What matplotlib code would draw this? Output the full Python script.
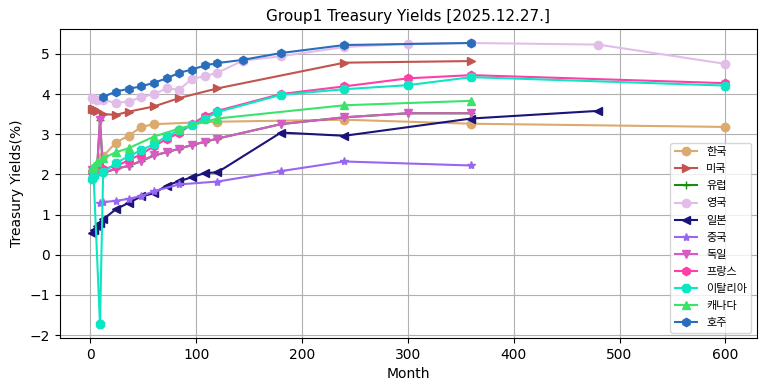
import matplotlib
matplotlib.use('Agg')
import matplotlib.pyplot as plt

plt.rcParams['font.family'] = ['DejaVu Sans', 'Noto Sans CJK KR']
plt.rcParams['axes.unicode_minus'] = True

# --- data (month -> yield %) ---
kr_m = [3, 6, 12, 24, 36, 48, 60, 120, 240, 360, 600]
kr_v = [2.05, 2.18, 2.45, 2.79, 2.96, 3.18, 3.25, 3.31, 3.36, 3.26, 3.18]

us_m = [1, 2, 3, 4, 6, 12, 24, 36, 60, 84, 120, 240, 360]
us_v = [3.63, 3.63, 3.62, 3.60, 3.57, 3.50, 3.48, 3.56, 3.69, 3.90, 4.14, 4.78, 4.82]

de_m = [1, 3, 6, 9, 12, 24, 36, 48, 60, 72, 84, 96, 108, 120, 180, 240, 300, 360]
de_v = [2.12, 2.07, 2.03, 3.36, 2.03, 2.14, 2.21, 2.33, 2.47, 2.55, 2.64, 2.73, 2.81,
        2.89, 3.25, 3.42, 3.52, 3.52]

eu_m = [1, 3, 6, 9, 12, 24, 36, 48, 60, 72, 84, 96, 108, 120, 180, 240, 300, 360]
eu_v = [2.12, 2.07, 2.03, 3.36, 2.03, 2.14, 2.21, 2.33, 2.47, 2.55, 2.64, 2.73, 2.81,
        2.89, 3.25, 3.42, 3.52, 3.52]

uk_m = [1, 3, 6, 12, 24, 36, 48, 60, 72, 84, 96, 108, 120, 144, 180, 240, 300, 360, 480, 600]
uk_v = [3.89, 3.88, 3.86, 3.85, 3.78, 3.81, 3.92, 4.00, 4.14, 4.11, 4.38, 4.44, 4.53,
        4.83, 4.94, 5.17, 5.25, 5.27, 5.23, 4.75]

jp_m = [1, 3, 6, 9, 12, 24, 36, 48, 60, 72, 84, 96, 108, 120, 180, 240, 360, 480]
jp_v = [0.53, 0.62, 0.72, 0.80, 0.88, 1.13, 1.29, 1.45, 1.53, 1.72, 1.83, 1.93, 2.03,
        2.05, 3.04, 2.96, 3.39, 3.58]

cn_m = [9, 12, 24, 36, 48, 60, 84, 120, 180, 240, 360]
cn_v = [1.29, 1.31, 1.34, 1.39, 1.46, 1.58, 1.75, 1.82, 2.08, 2.32, 2.22]

fr_m = [1, 3, 6, 9, 12, 24, 36, 48, 60, 72, 84, 96, 108, 120, 180, 240, 300, 360, 600]
fr_v = [2.05, 2.05, 2.07, 2.10, 2.14, 2.20, 2.35, 2.50, 2.70, 2.88, 3.03, 3.25, 3.45,
        3.58, 4.00, 4.19, 4.39, 4.47, 4.27]

it_m = [1, 3, 9, 12, 24, 36, 48, 60, 72, 84, 96, 108, 120, 180, 240, 300, 360, 600]
it_v = [1.88, 1.95, -1.73, 2.05, 2.28, 2.45, 2.60, 2.75, 2.95, 3.10, 3.22, 3.38, 3.55,
        3.98, 4.12, 4.22, 4.42, 4.21]

ca_m = [1, 2, 3, 6, 12, 24, 36, 60, 84, 120, 240, 360]
ca_v = [2.15, 2.17, 2.20, 2.30, 2.40, 2.55, 2.65, 2.94, 3.14, 3.39, 3.72, 3.83]

au_m = [12, 24, 36, 48, 60, 72, 84, 96, 108, 120, 144, 180, 240, 360]
au_v = [3.93, 4.06, 4.13, 4.19, 4.28, 4.39, 4.53, 4.61, 4.71, 4.77, 4.85, 5.02, 5.22, 5.27]

series = [
    ('한국', kr_m, kr_v, '#DAAA6E', 'o'),
    ('미국', us_m, us_v, '#C2544E', '>'),
    ('유럽', eu_m, eu_v, '#1E8A12', '+'),
    ('영국', uk_m, uk_v, '#E2BDEA', 'o'),
    ('일본', jp_m, jp_v, '#1B1478', '<'),
    ('중국', cn_m, cn_v, '#9966F2', '*'),
    ('독일', de_m, de_v, '#D65BC2', 'v'),
    ('프랑스', fr_m, fr_v, '#FF3FA8', 'h'),
    ('이탈리아', it_m, it_v, '#0CE6C2', '8'),
    ('캐나다', ca_m, ca_v, '#3CE36A', '^'),
    ('호주', au_m, au_v, '#2A6EBB', 'h'),
]

fig = plt.figure(figsize=(7.67, 3.91), dpi=100)
ax = fig.add_axes([0.078, 0.135, 0.909, 0.791])

for name, m, v, c, mk in series:
    ax.plot(m, v, color=c, marker=mk, label=name)

ax.set_title('Group1 Treasury Yields [2025.12.27.]', fontsize=11)
ax.set_xlabel('Month')
ax.set_ylabel('Treasury Yields(%)')
ax.grid(True)
ax.legend(loc='lower right', fontsize=8, labelspacing=0.64)

fig.savefig('out.png', dpi=100)
